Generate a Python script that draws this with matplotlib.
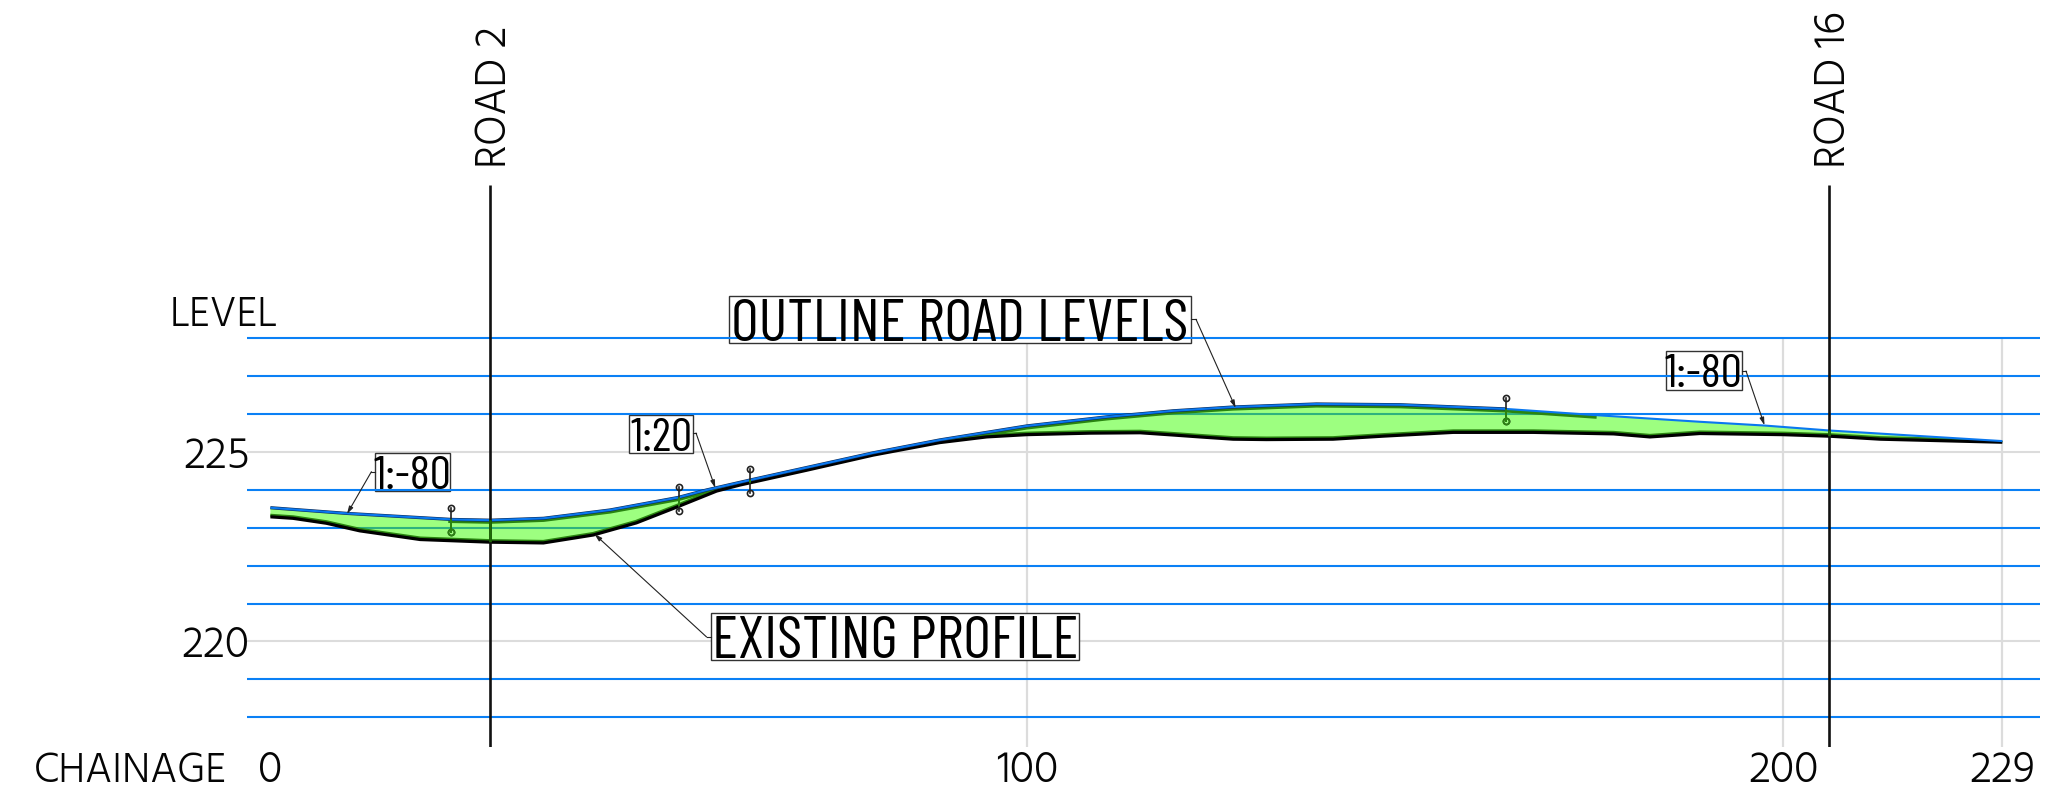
import matplotlib
matplotlib.use("Agg")
import matplotlib.pyplot as plt
from matplotlib import font_manager as fm
from matplotlib.patches import Polygon, Rectangle
from matplotlib.transforms import Affine2D, ScaledTranslation

# ---- data -----------------------------------------------------------------
design_ch = [0, 10.1, 24, 29.1, 36.1, 44.9, 53.9, 57.7, 63.4, 79.7, 88.5, 100, 110.6, 119.4,
             127.3, 138.3, 149.4, 163.3, 174.9, 189, 197.6, 206.1, 229]
design_lv = [223.53, 223.38, 223.22, 223.20, 223.25, 223.47, 223.80, 224.00, 224.26,
             224.98, 225.32, 225.69, 225.93, 226.09, 226.19, 226.27, 226.25, 226.14,
             225.98, 225.80, 225.70, 225.57, 225.29]
exist_ch = [0, 3, 7.4, 11.8, 19.8, 29.1, 36.1, 42.7, 48.4, 53.9, 59, 62.1, 70.9, 79.7, 88.5,
            94.7, 100, 108.4, 115, 119.4, 122.9, 127.3, 131.7, 140.5, 147.1, 156.4, 167,
            177.6, 182.4, 189, 200, 206.1, 212.9, 229]
exist_lv = [223.29, 223.25, 223.12, 222.92, 222.69, 222.62, 222.60, 222.81, 223.13, 223.56,
            223.97, 224.13, 224.52, 224.92, 225.25, 225.40, 225.46, 225.50, 225.51, 225.45,
            225.40, 225.34, 225.33, 225.34, 225.42, 225.52, 225.52, 225.48, 225.40, 225.49,
            225.46, 225.42, 225.34, 225.26]
blue_levels = [218, 219, 221, 222, 223, 224, 226, 227, 228]
level_ticks = [220, 225]
chainage_ticks = [0, 100, 200, 229]
roads = {"ROAD 2": 29.1, "ROAD 16": 206.1}
stem_ch = [23.9, 54, 63.4, 163.4]
stem_top = [223.51, 224.07, 224.55, 226.43]
stem_bot = [222.90, 223.45, 223.93, 225.81]

BLUE = "#0a80f5"
GRAY = "#dcdcdc"
FILL = "#9dff80"
DARK = "#2a8510"
installed = {f.name for f in fm.fontManager.ttflist}
narrow_family = "Barlow Condensed" if "Barlow Condensed" in installed else "Liberation Sans"
light_family = "Hind" if "Hind" in installed else "Roboto"
LIGHT = dict(family=light_family, weight="light", color="#050505")
NARROW = dict(family=narrow_family, weight="normal", color="black")

W, H = 2066, 794
fig = plt.figure(figsize=(W / 100, H / 100), dpi=100, facecolor="white")
L, R, B = 247.4, 2040, 747
ax = fig.add_axes([L / W, (H - B) / H, (R - L) / W, B / H])
ax.set_xlim(-3.04, 233.98)
ax.set_ylim(217.21, 236.94)
for s in ax.spines.values():
    s.set_visible(False)
ax.patch.set_alpha(0)
ax.set_xticks(chainage_ticks, [str(v) for v in chainage_ticks], **LIGHT, fontsize=32)
ax.set_yticks(level_ticks, [str(v) for v in level_ticks], **LIGHT, fontsize=32)
ax.tick_params(length=0)
ax.tick_params(axis="x", pad=2.5)
ax.tick_params(axis="y", pad=-1.5)

# drawing coordinates for the annotation furniture: pixels from top-left
px = Affine2D().scale(1, -1).translate(0, H)

# grid
ax.hlines(level_ticks, -3.04, 233.98, color=GRAY, lw=1.5, zorder=1)
ax.vlines(chainage_ticks[1:], 217.21, 228.05, color=GRAY, lw=1.6, zorder=1)

# label boxes (white, under the blue level lines)
boxes = [("OUTLINE ROAD LEVELS", 729, 296, 1191, 343, 43.5),
         ("EXISTING PROFILE", 711, 613, 1079, 660, 43.5),
         ("1:-80", 375, 453, 450, 491, 34),
         ("1:20", 629, 415, 693, 453, 34),
         ("1:-80", 1666, 351, 1741.5, 389.5, 34)]
for txt, x0, y0, x1, y1, fs in boxes:
    ax.add_patch(Rectangle((x0, y0), x1 - x0, y1 - y0, transform=px, fc="white",
                           ec="#333333", lw=1.0, zorder=2, clip_on=False))
    ax.text((x0 + x1) / 2, (y0 + y1) / 2 + 0.5, txt, transform=px, ha="center",
            va="center_baseline", fontsize=fs, zorder=9, **NARROW)

# blue level lines
ax.hlines(blue_levels, -3.04, 233.98, color=BLUE, lw=1.5, zorder=3)

# earthworks fill
poly = list(zip(design_ch, design_lv)) + list(zip(exist_ch, exist_lv))[::-1]
fill = Polygon(poly, closed=True, fc=FILL, ec="none", zorder=4)
ax.add_patch(fill)

# colours seen through the fill
h = ax.hlines(blue_levels, -3.04, 233.98, color="#2fb27e", lw=1.5, zorder=4.2)
h.set_clip_path(fill)
ax.plot(design_ch[2:19], design_lv[2:19], color=DARK, lw=5.2, zorder=4.4,
        solid_joinstyle="round")[0].set_clip_path(fill)
ax.plot(exist_ch, exist_lv, color=DARK, lw=4.4, zorder=4.4,
        solid_joinstyle="round")[0].set_clip_path(fill)

# profile lines
ax.plot(exist_ch, exist_lv, color="black", lw=2.3, zorder=5, solid_joinstyle="round",
        solid_capstyle="butt")
ax.plot(design_ch[:18], design_lv[:18], color="#0b2a55", lw=2.3, zorder=5,
        solid_joinstyle="round", solid_capstyle="butt")
ax.plot(design_ch, design_lv, color="#0a78f0", lw=1.5, zorder=5.1, solid_joinstyle="round",
        solid_capstyle="butt")

# roads
shift = ScaledTranslation(4 / 100, 0, fig.dpi_scale_trans)
for name, c in roads.items():
    ax.vlines(c, 217.21, 232.06, color="#111111", lw=1.9, zorder=6)
    v = ax.vlines(c, 217.21, 232.06, color="#1d6b05", lw=1.9, zorder=6.1)
    v.set_clip_path(fill)
    ax.text(c, 232.5, name, rotation=90, ha="center", va="bottom", fontsize=31.5,
            zorder=9, transform=ax.transData + shift, **LIGHT)

# offset stems
for c, t, b in zip(stem_ch, stem_top, stem_bot):
    ax.plot([c, c], [t, b], color="#222222", lw=1.2, marker="o", ms=4.4, mfc="none",
            mec="#222222", mew=1.2, zorder=7)
    ax.plot([c, c], [t, b], color=DARK, lw=1.4, marker="o", ms=4.4, mfc="none",
            mec=DARK, mew=1.2, zorder=7.1)[0].set_clip_path(fill)

# leaders
leaders = [((375, 471.7), (371.4, 471.7), (347, 514)),
           ((693, 433), (696, 433), (715.3, 488)),
           ((1191, 319.3), (1196, 319.3), (1235.7, 408)),
           ((711, 637), (706.6, 637), (594.4, 534)),
           ((1741.5, 371), (1746, 371), (1764.5, 425.3))]
for a, b, tip in leaders:
    ax.plot([a[0], b[0]], [a[1], b[1]], transform=px, color="#222222", lw=0.8,
            zorder=8, clip_on=False)
    ax.annotate("", xy=tip, xytext=b, xycoords=px, textcoords=px, zorder=8,
                arrowprops=dict(arrowstyle="-|>,head_length=0.45,head_width=0.13",
                                color="#222222", lw=0.8, shrinkA=0, shrinkB=0))

# side captions
ax.text(224, 314.5, "LEVEL", transform=px, ha="center", va="center", fontsize=30.5,
        clip_on=False, **LIGHT)
ax.text(130.5, 770.5, "CHAINAGE", transform=px, ha="center", va="center", fontsize=30.5,
        clip_on=False, **LIGHT)

fig.savefig("out.png", dpi=100)
